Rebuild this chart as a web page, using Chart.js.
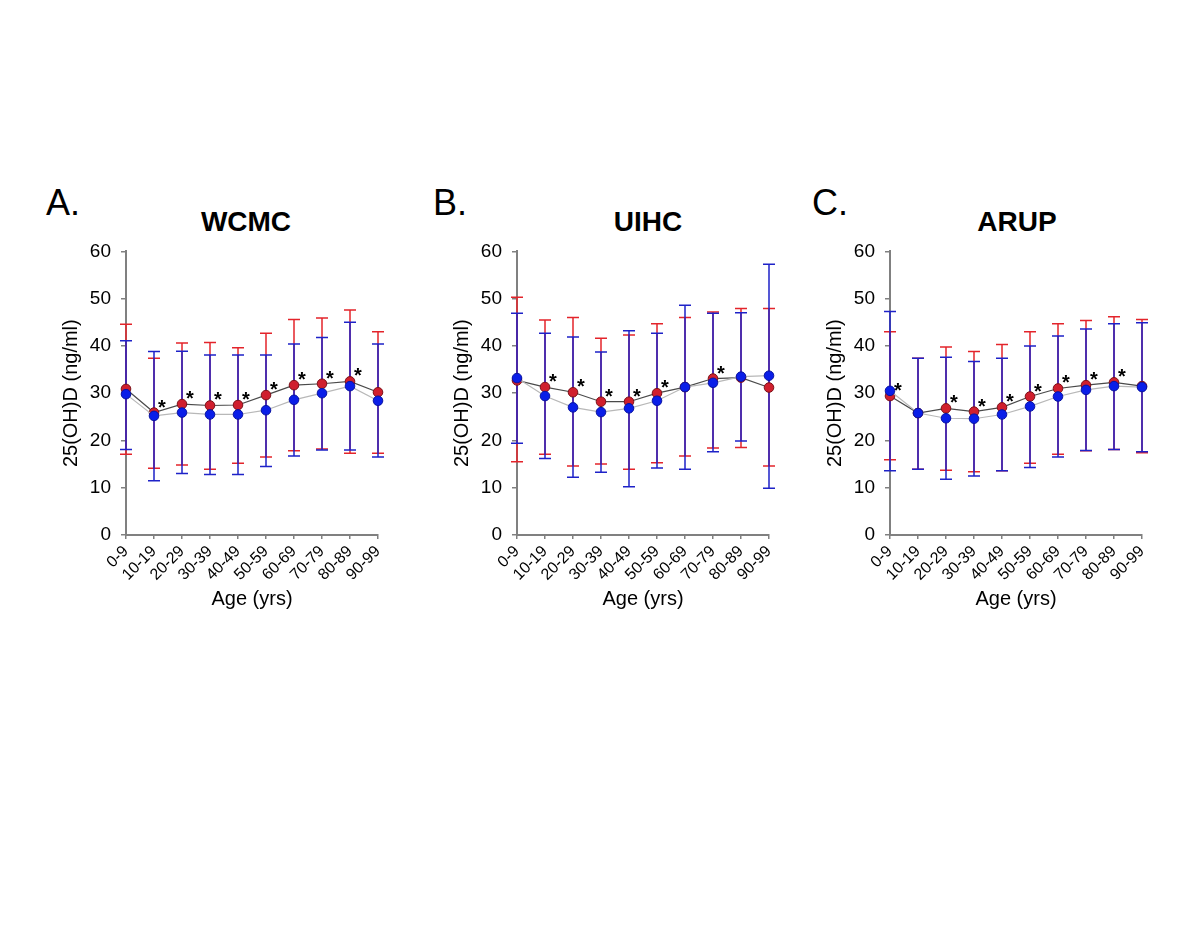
<!DOCTYPE html>
<html>
<head>
<meta charset="utf-8">
<script src="https://cdn.jsdelivr.net/npm/chart.js@4"></script>
<style>
	body { margin: 0; background: #fff; width: 1200px; height: 930px; position: relative; overflow: hidden; font-family: Arial, "Liberation Sans", sans-serif; }
	canvas { position: absolute; top: 230px; }
	.letra { position: absolute; top: 185px; font-size: 36px; line-height: 1; }
	.titulo { position: absolute; top: 208px; font-size: 28px; font-weight: bold; line-height: 1; transform: translateX(-50%); }
</style>
</head>
<body>
<div class="letra" style="left:46px">A.</div>
<div class="titulo" style="left:246px">WCMC</div>
<div class="letra" style="left:433px">B.</div>
<div class="titulo" style="left:648px">UIHC</div>
<div class="letra" style="left:812px">C.</div>
<div class="titulo" style="left:1017px">ARUP</div>

<canvas id="graficoA" width="360" height="385" style="left:40px"></canvas>
<canvas id="graficoB" width="360" height="385" style="left:431px"></canvas>
<canvas id="graficoC" width="360" height="385" style="left:804px"></canvas>

<script>
// eje horizontal (grupos de edad)
const edades = ["0-9", "10-19", "20-29", "30-39", "40-49", "50-59", "60-69", "70-79", "80-89", "90-99"];

// WCMC
const wcmcRojo = [30.9, 25.9, 27.7, 27.4, 27.5, 29.6, 31.7, 32.0, 32.5, 30.2];
const wcmcRojoSup = [44.6, 37.4, 40.6, 40.7, 39.6, 42.7, 45.6, 45.9, 47.6, 43.0];
const wcmcRojoInf = [17.1, 14.1, 14.8, 13.9, 15.2, 16.5, 17.8, 18.2, 17.3, 17.3];
const wcmcAzul = [29.8, 25.2, 25.9, 25.5, 25.5, 26.4, 28.6, 30.0, 31.5, 28.4];
const wcmcAzulSup = [41.1, 38.8, 38.9, 38.1, 38.1, 38.1, 40.4, 41.8, 45.0, 40.4];
const wcmcAzulInf = [18.1, 11.5, 13.0, 12.8, 12.8, 14.5, 16.7, 18.0, 18.0, 16.5];
const wcmcAsteriscos = [1, 2, 3, 4, 5, 6, 7, 8];

// UIHC
const uihcRojo = [32.7, 31.3, 30.2, 28.2, 28.2, 30.0, 31.3, 33.1, 33.3, 31.2];
const uihcRojoSup = [50.3, 45.5, 46.0, 41.6, 42.3, 44.7, 46.0, 47.2, 47.9, 47.9];
const uihcRojoInf = [15.5, 17.1, 14.6, 15.0, 13.9, 15.3, 16.7, 18.4, 18.5, 14.6];
const uihcAzul = [33.2, 29.4, 27.0, 26.0, 26.8, 28.4, 31.3, 32.2, 33.5, 33.7];
const uihcAzulSup = [46.9, 42.7, 41.9, 38.7, 43.2, 42.7, 48.6, 46.9, 47.0, 57.3];
const uihcAzulInf = [19.4, 16.2, 12.2, 13.3, 10.2, 14.2, 13.9, 17.6, 19.9, 9.9];
const uihcAsteriscos = [1, 2, 3, 4, 5, 7];

// ARUP
const arupRojo = [29.4, 25.8, 26.8, 26.1, 27.0, 29.3, 31.0, 31.7, 32.3, 31.5];
const arupRojoSup = [43.0, 37.4, 39.8, 38.8, 40.3, 43.0, 44.7, 45.4, 46.2, 45.6];
const arupRojoInf = [15.9, 13.9, 13.7, 13.4, 13.6, 15.2, 17.1, 17.8, 18.1, 17.4];
const arupAzul = [30.5, 25.8, 24.7, 24.6, 25.5, 27.2, 29.3, 30.7, 31.5, 31.3];
const arupAzulSup = [47.3, 37.4, 37.6, 36.7, 37.4, 40.0, 42.1, 43.6, 44.7, 44.9];
const arupAzulInf = [13.6, 13.9, 11.8, 12.5, 13.6, 14.3, 16.5, 17.9, 18.1, 17.6];
const arupAsteriscos = [0, 2, 3, 4, 5, 6, 7, 8];

const fuente = "Arial, 'Liberation Sans', sans-serif";

function crearGrafico(id, rojo, rojoSup, rojoInf, azul, azulSup, azulInf, asteriscos) {
	// barras de error (rojo primero, azul encima) y asteriscos
	const barras = {
		id: "barras_" + id,
		beforeDatasetsDraw(chart) {
			const ctx = chart.ctx;
			const x = chart.scales.x, y = chart.scales.y;
			const series = [
				{ sup: rojoSup, inf: rojoInf, color: "#e3242b" },
				{ sup: azulSup, inf: azulInf, color: "#1e22c8" },
			];
			ctx.save();
			ctx.lineWidth = 1.5;
			series.forEach((s) => {
				ctx.strokeStyle = s.color;
				for (let i = 0; i < edades.length; i++) {
					const px = x.getPixelForValue(i);
					const y1 = y.getPixelForValue(s.sup[i]);
					const y2 = y.getPixelForValue(s.inf[i]);
					ctx.beginPath();
					ctx.moveTo(px, y1); ctx.lineTo(px, y2);
					ctx.moveTo(px - 6, y1); ctx.lineTo(px + 6, y1);
					ctx.moveTo(px - 6, y2); ctx.lineTo(px + 6, y2);
					ctx.stroke();
				}
			});
			ctx.restore();
		},
		afterDatasetsDraw(chart) {
			const ctx = chart.ctx;
			const x = chart.scales.x, y = chart.scales.y;
			ctx.save();
			ctx.fillStyle = "#000";
			ctx.font = "bold 20px " + fuente;
			ctx.textAlign = "center";
			ctx.textBaseline = "alphabetic";
			asteriscos.forEach((i) => {
				ctx.fillText("*", x.getPixelForValue(i) + 8, y.getPixelForValue(rojo[i]) + 1);
			});
			ctx.restore();
		},
	};

	return new Chart(document.getElementById(id), {
		type: "line",
		data: {
			labels: edades,
			datasets: [
				{
					data: azul,
					order: 1,
					borderColor: "#b8b8b8",
					borderWidth: 1.2,
					pointRadius: 4.8,
					pointBackgroundColor: "#0a1ee8",
					pointBorderColor: "#0812a0",
					pointBorderWidth: 1,
					clip: false,
				},
				{
					data: rojo,
					order: 2,
					borderColor: "#4a4a4a",
					borderWidth: 1.2,
					pointRadius: 4.8,
					pointBackgroundColor: "#d01f2e",
					pointBorderColor: "#7a1018",
					pointBorderWidth: 1,
					clip: false,
				},
			],
		},
		options: {
			responsive: false,
			animation: false,
			layout: { padding: { left: 15, top: 18, right: 22, bottom: 0 } },
			plugins: { legend: { display: false }, tooltip: { enabled: false } },
			scales: {
				x: {
					offset: false,
					grid: { drawOnChartArea: false, drawTicks: true, tickLength: 4, color: "#808080", lineWidth: 1.5 },
					border: { color: "#808080", width: 2 },
					ticks: { autoSkip: false, minRotation: 45, maxRotation: 45, padding: 3, color: "#000", font: { family: fuente, size: 16 } },
					title: { display: true, text: "Age (yrs)", color: "#000", font: { family: fuente, size: 20 } },
					afterFit: (s) => { s.height = 80; },
				},
				y: {
					min: 0,
					max: 60,
					grid: { drawOnChartArea: false, drawTicks: true, tickLength: 5, color: "#808080", lineWidth: 1.5 },
					border: { color: "#808080", width: 2 },
					ticks: { stepSize: 10, padding: 10, color: "#000", font: { family: fuente, size: 19 } },
					title: { display: true, text: "25(OH)D (ng/ml)", color: "#000", font: { family: fuente, size: 20 } },
					afterFit: (s) => { s.width = 71; },
				},
			},
		},
		plugins: [barras],
	});
}

crearGrafico("graficoA", wcmcRojo, wcmcRojoSup, wcmcRojoInf, wcmcAzul, wcmcAzulSup, wcmcAzulInf, wcmcAsteriscos);
crearGrafico("graficoB", uihcRojo, uihcRojoSup, uihcRojoInf, uihcAzul, uihcAzulSup, uihcAzulInf, uihcAsteriscos);
crearGrafico("graficoC", arupRojo, arupRojoSup, arupRojoInf, arupAzul, arupAzulSup, arupAzulInf, arupAsteriscos);
</script>
</body>
</html>
